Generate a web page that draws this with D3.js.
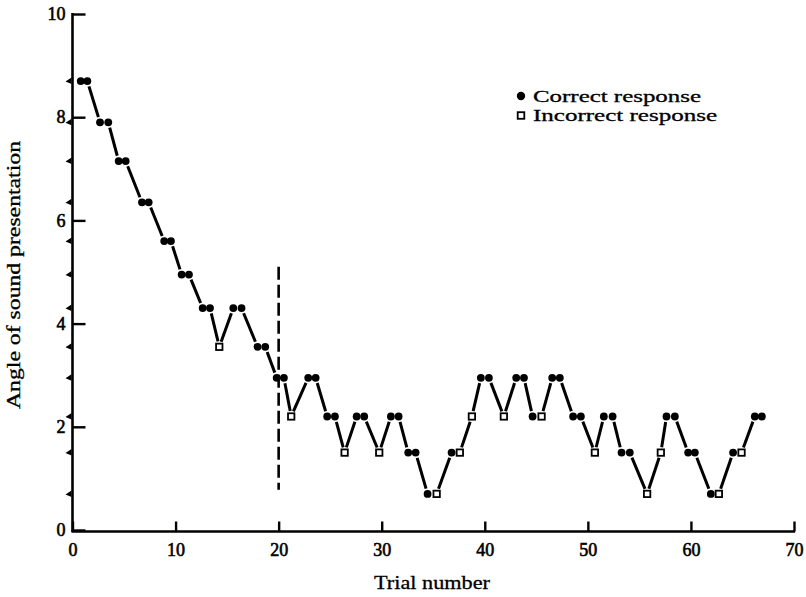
<!DOCTYPE html>
<html>
<head>
<meta charset="utf-8">
<script src="https://cdn.jsdelivr.net/npm/d3@7/dist/d3.min.js"></script>
<style>
  html, body { margin: 0; padding: 0; background: #fff; }
  svg { display: block; }
  text { font-family: "Liberation Serif", "Times New Roman", serif; fill: #000; }
</style>
</head>
<body>
<svg id="chart" width="806" height="597"></svg>
<script>
// Adaptive staircase: trial position, presentation angle, and response outcome
const trial = [
  0.8, 1.44, 2.67, 3.47, 4.48, 5.16, 6.74, 7.39, 8.9, 9.55,
  10.59, 11.3, 12.63, 13.34, 14.24, 15.6, 16.4, 17.95, 18.7, 19.81,
  20.51, 21.22, 22.87, 23.59, 24.71, 25.46, 26.4, 27.57, 28.3, 29.76,
  30.89, 31.64, 32.57, 33.29, 34.45, 35.33, 36.78, 37.58, 38.75, 39.62,
  40.4, 41.85, 43.05, 43.8, 44.64, 45.51, 46.54, 47.28, 48.57, 49.32,
  50.68, 51.55, 52.4, 53.27, 54.07, 55.75, 57.08, 57.63, 58.44, 59.73,
  60.38, 61.93, 62.71, 64.09, 64.91, 66.2, 66.88
];
const angle = [
  8.7, 8.7, 7.9, 7.9, 7.15, 7.15, 6.35, 6.35, 5.6, 5.6,
  4.95, 4.95, 4.3, 4.3, 3.55, 4.3, 4.3, 3.55, 3.55, 2.95,
  2.95, 2.2, 2.95, 2.95, 2.2, 2.2, 1.5, 2.2, 2.2, 1.5,
  2.2, 2.2, 1.5, 1.5, 0.7, 0.7, 1.5, 1.5, 2.2, 2.95,
  2.95, 2.2, 2.95, 2.95, 2.2, 2.2, 2.95, 2.95, 2.2, 2.2,
  1.5, 2.2, 2.2, 1.5, 1.5, 0.7, 1.5, 2.2, 2.2, 1.5,
  1.5, 0.7, 0.7, 1.5, 1.5, 2.2, 2.2
];
// 1 = correct response, 0 = incorrect response
const correct = [
  1, 1, 1, 1, 1, 1, 1, 1, 1, 1,
  1, 1, 1, 1, 0, 1, 1, 1, 1, 1,
  1, 0, 1, 1, 1, 1, 0, 1, 1, 0,
  1, 1, 1, 1, 1, 0, 1, 0, 0, 1,
  1, 0, 1, 1, 1, 0, 1, 1, 1, 1,
  0, 1, 1, 1, 1, 0, 0, 1, 1, 1,
  1, 1, 0, 1, 0, 1, 1
];
// Step levels marked on the angle axis
const stepLevels = [8.7, 7.9, 7.15, 6.35, 5.6, 4.95, 4.3, 3.55, 2.95, 2.2, 1.5, 0.7];
const xTicks = [0, 10, 20, 30, 40, 50, 60, 70];
const yTicks = [0, 2, 4, 6, 8, 10];
const blockBoundary = 20;
const boundaryRange = [0.78, 5.1];
const legendItems = ["Correct response", "Incorrect response"];

const points = trial.map((t, i) => ({ t, a: angle[i], ok: correct[i] === 1 }));

const svg = d3.select("#chart");
const x = d3.scaleLinear().domain([0, 70]).range([72.5, 794]);
const y = d3.scaleLinear().domain([0, 10]).range([530, 14]);

const ink = "#000";
const textStroke = 0.3;

// Connecting segments, trimmed short of each marker
const gap = 5.5;
const segs = svg.append("g");
for (let i = 0; i < points.length - 1; i++) {
  const x1 = x(points[i].t), y1 = y(points[i].a);
  const x2 = x(points[i + 1].t), y2 = y(points[i + 1].a);
  const len = Math.hypot(x2 - x1, y2 - y1);
  if (len < 2 * gap + 3) continue;
  const ux = (x2 - x1) / len, uy = (y2 - y1) / len;
  segs.append("line")
    .attr("x1", x1 + ux * gap).attr("y1", y1 + uy * gap)
    .attr("x2", x2 - ux * gap).attr("y2", y2 - uy * gap)
    .attr("stroke", ink).attr("stroke-width", 3);
}

// Block boundary
svg.append("line")
  .attr("x1", x(blockBoundary)).attr("x2", x(blockBoundary))
  .attr("y1", y(boundaryRange[1])).attr("y2", y(boundaryRange[0]))
  .attr("stroke", ink).attr("stroke-width", 2.6)
  .attr("stroke-dasharray", "13,5");

// Markers
const marks = svg.append("g");
marks.selectAll("circle").data(points.filter(d => d.ok)).join("circle")
  .attr("cx", d => x(d.t)).attr("cy", d => y(d.a)).attr("r", 3.9)
  .attr("fill", ink);
marks.selectAll("rect").data(points.filter(d => !d.ok)).join("rect")
  .attr("x", d => x(d.t) - 3.2).attr("y", d => y(d.a) - 3.2)
  .attr("width", 6.4).attr("height", 6.4)
  .attr("fill", "#fff").attr("stroke", ink).attr("stroke-width", 1.8);

// Axes
const xAxis = svg.append("g").attr("transform", `translate(0,${y(0) + 1.5})`)
  .call(d3.axisBottom(x).tickValues(xTicks).tickSizeInner(-10).tickSizeOuter(0).tickPadding(12));
const yAxis = svg.append("g").attr("transform", `translate(${x(0)},0)`)
  .call(d3.axisLeft(y).tickValues(yTicks).tickSizeInner(-13).tickSizeOuter(0).tickPadding(7));

[xAxis, yAxis].forEach(g => {
  g.attr("font-family", null);
  g.select(".domain").attr("stroke", ink).attr("stroke-width", 2.6);
  g.selectAll(".tick line").attr("stroke", ink).attr("stroke-width", 2.4);
  g.selectAll(".tick text").attr("font-size", 18)
    .attr("fill", ink).attr("stroke", ink).attr("stroke-width", 0.6);
});
xAxis.select(".domain").attr("d", `M${x(0) - 1},0H${x(70) + 1}`);
yAxis.select(".domain").attr("d", `M0,${y(0) + 2}V${y(10) - 1}`);

// Step-level notches on the angle axis
svg.append("g").selectAll("path").data(stepLevels).join("path")
  .attr("d", d => {
    const ax = x(0) - 1, yy = y(d);
    return `M${ax},${yy - 3.5}L${ax - 6},${yy + 0.5}L${ax},${yy + 3}Z`;
  })
  .attr("fill", ink);

// Axis titles
svg.append("text")
  .attr("x", 432).attr("y", 589)
  .attr("text-anchor", "middle").attr("font-size", 19)
  .attr("textLength", 116).attr("lengthAdjust", "spacingAndGlyphs")
  .attr("stroke", ink).attr("stroke-width", textStroke)
  .text("Trial number");

svg.append("text")
  .attr("transform", "translate(20,275) rotate(-90)")
  .attr("text-anchor", "middle").attr("font-size", 19)
  .attr("textLength", 268).attr("lengthAdjust", "spacingAndGlyphs")
  .attr("stroke", ink).attr("stroke-width", textStroke)
  .text("Angle of sound presentation");

// Legend
const legend = svg.append("g").attr("transform", "translate(521,96)");
legend.append("circle").attr("cx", 0).attr("cy", 0).attr("r", 4.2).attr("fill", ink);
legend.append("rect").attr("x", -3.3).attr("y", 16.2).attr("width", 6.6).attr("height", 6.6)
  .attr("fill", "#fff").attr("stroke", ink).attr("stroke-width", 1.8);
legend.selectAll("text").data(legendItems).join("text")
  .attr("x", 12).attr("y", (d, i) => 5.5 + i * 19.5)
  .attr("font-size", 17)
  .attr("textLength", (d, i) => i === 0 ? 168 : 184)
  .attr("lengthAdjust", "spacingAndGlyphs")
  .attr("stroke", ink).attr("stroke-width", textStroke)
  .text(d => d);
</script>
</body>
</html>
